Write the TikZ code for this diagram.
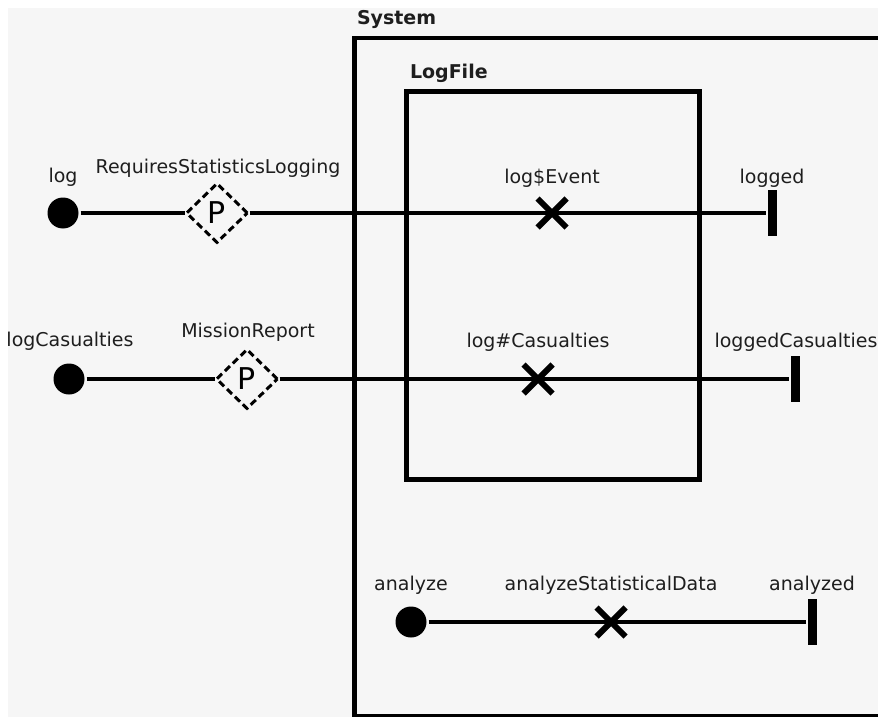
\documentclass[tikz,border=0pt]{standalone}
\usepackage{fontspec}
\setmainfont{DejaVu Sans}
\usepackage{tikz}
\usetikzlibrary{shapes.geometric,shapes.misc}

\definecolor{canvas}{HTML}{F6F6F6}
\definecolor{ink}{HTML}{1E1E1E}
\tikzset{
  portdot/.style={circle,fill=black,inner sep=0pt,minimum size=31pt},
  guardbox/.style={diamond,draw,line width=3pt,dash pattern=on 7pt off 4pt,
    inner sep=0pt,minimum width=62pt,minimum height=60pt,
    font=\fontsize{30}{30}\selectfont},
  xmark/.style={cross out,draw,line width=6pt,inner sep=0pt,minimum size=23pt},
  endbar/.style={rectangle,fill=black,inner sep=0pt,minimum width=9pt,minimum height=46pt},
  tag/.style={inner sep=0pt,anchor=base,text=ink,font=\fontsize{19}{22}\selectfont},
  boxtitle/.style={tag,anchor=base west,font=\fontsize{19}{22}\selectfont\bfseries},
  frame/.style={draw,line width=4.5pt,inner sep=0pt,anchor=north west}
}

\begin{document}
\begin{tikzpicture}[x=1pt,y=-1pt,line width=4pt]
\useasboundingbox (0,0) rectangle (878,717);
\fill[canvas] (8,8) rectangle (878,717);

\begin{scope}
\clip (0,0) rectangle (878,717);
\node[frame,minimum width=600pt,minimum height=678pt] (system) at (352,36) {};
\end{scope}
\node[boxtitle] (systemTxt) at (355,25) {System};
\node[frame,minimum width=293pt,minimum height=388pt] (logFile) at (404,89) {};
\node[boxtitle] (logFileTxt) at (408,78) {LogFile};

% log
\node[portdot] (logIn) at (63,213) {};
\node[tag] (logTxt) at (63,182) {log};
\node[guardbox] (reqStats) at (217,213) {P};
\node[tag] (reqStatsTxt) at (218,173) {RequiresStatisticsLogging};
\node[xmark] (logEvent) at (552,213) {};
\node[tag] (logEventTxt) at (552,183) {log\$Event};
\node[endbar] (logged) at (772,213) {};
\node[tag] (loggedTxt) at (772,183) {logged};
\draw (logIn) -- (reqStats);
\draw (reqStats) -- (logged);

% logCasualties
\node[portdot] (casIn) at (69,379) {};
\node[tag] (casTxt) at (70,346) {logCasualties};
\node[guardbox] (mission) at (247,379) {P};
\node[tag] (missionTxt) at (248,337) {MissionReport};
\node[xmark] (logCas) at (538,379) {};
\node[tag] (logCasTxt) at (538,347) {log\#Casualties};
\node[endbar] (casOut) at (795,379) {};
\node[tag] (casOutTxt) at (796,347) {loggedCasualties};
\draw (casIn) -- (mission);
\draw (mission) -- (casOut);

% analyze
\node[portdot] (anaIn) at (411,622) {};
\node[tag] (anaTxt) at (411,590) {analyze};
\node[xmark] (anaData) at (611,622) {};
\node[tag] (anaDataTxt) at (611,590) {analyzeStatisticalData};
\node[endbar] (anaOut) at (812,622) {};
\node[tag] (anaOutTxt) at (812,590) {analyzed};
\draw (anaIn) -- (anaOut);
\end{tikzpicture}
\end{document}
